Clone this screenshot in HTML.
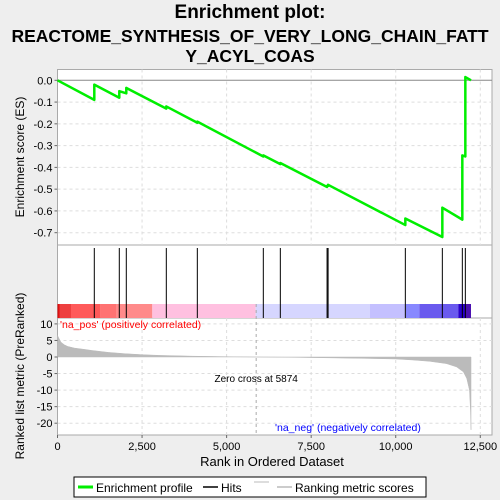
<!DOCTYPE html>
<html><head><meta charset="utf-8"><style>
body{margin:0;background:#eeeeee;}
svg{display:block;font-family:"Liberation Sans",sans-serif;}
</style></head><body>
<svg width="500" height="500" viewBox="0 0 500 500">
<rect x="0" y="0" width="500" height="500" fill="#eeeeee"/>
<text x="250" y="18" text-anchor="middle" font-size="19" font-weight="bold">Enrichment plot:</text>
<text x="250" y="42" text-anchor="middle" font-size="17.5" font-weight="bold">REACTOME_SYNTHESIS_OF_VERY_LONG_CHAIN_FATT</text>
<text x="250" y="62" text-anchor="middle" font-size="17.5" font-weight="bold">Y_ACYL_COAS</text>
<g id="panels"></g>
<g id="g-es"></g>
<g id="g-hits"></g>
<g id="g-metric"></g>
<g id="g-axes"></g>
<text transform="translate(24,157) rotate(-90)" text-anchor="middle" font-size="12">Enrichment score (ES)</text>
<text transform="translate(24,376) rotate(-90)" text-anchor="middle" font-size="12">Ranked list metric (PreRanked)</text>
<text x="272" y="466" text-anchor="middle" font-size="13">Rank in Ordered Dataset</text>
<g>
<rect x="74" y="477" width="352" height="20" fill="#fff" stroke="#000" stroke-width="1"/>
<line x1="78" y1="487" x2="93" y2="487" stroke="#00ee00" stroke-width="3"/>
<text x="96" y="492" font-size="12">Enrichment profile</text>
<line x1="203" y1="487" x2="218" y2="487" stroke="#000" stroke-width="1.5"/>
<text x="221" y="492" font-size="12">Hits</text>
<line x1="254" y1="482" x2="269" y2="482" stroke="#bbb" stroke-width="1"/>
<line x1="277" y1="487" x2="292" y2="487" stroke="#bbb" stroke-width="1.5"/>
<text x="295" y="492" font-size="12">Ranking metric scores</text>
</g>
</svg>
<script>
const hitRanks=[1088,1827,2034,3217,4134,6085,6588,7970,8000,10284,11378,11969,12058];
const esBefore=[-0.09,-0.08,-0.06,-0.13,-0.195,-0.35,-0.385,-0.49,-0.485,-0.665,-0.72,-0.64,-0.35];
const esAfter=[-0.02,-0.05,-0.035,-0.12,-0.19,-0.345,-0.38,-0.485,-0.48,-0.635,-0.585,-0.345,0.015];
const esEnd=0.0;
const nRanks=12226;
const metricRanks=[0,50,100,200,300,500,800,1000,1500,2000,2500,3000,4000,5000,5874,7000,8000,9000,10000,10500,11000,11500,11800,12000,12100,12180,12210,12226];
const metricVals=[6.5,5.5,4.5,3.7,3.2,2.7,2.3,2.0,1.4,1.0,0.7,0.5,0.25,0.1,0,-0.1,-0.25,-0.4,-0.6,-0.9,-1.3,-2,-3,-4.5,-6.5,-10,-16,-22];
const xTicks=[0,2500,5000,7500,10000,12500];
const xTickLabels=["0","2,500","5,000","7,500","10,000","12,500"];
const esTicks=[0,-0.1,-0.2,-0.3,-0.4,-0.5,-0.6,-0.7];
const esTickLabels=["0.0","-0.1","-0.2","-0.3","-0.4","-0.5","-0.6","-0.7"];
const mTicks=[10,5,0,-5,-10,-15,-20];
const mTickLabels=["10","5","0","-5","-10","-15","-20"];
const zeroCross=5874;

const NS="http://www.w3.org/2000/svg";
const L=57.5,R=492;
const X=r=>57.5+r*0.033823;
const YES=v=>80.3-v*217.7;
const YM=v=>357-v*3.31;
function mk(tag,attrs,parent){const e=document.createElementNS(NS,tag);for(const k in attrs)e.setAttribute(k,attrs[k]);parent.appendChild(e);return e;}
const P=document.getElementById('panels'),GE=document.getElementById('g-es'),GH=document.getElementById('g-hits'),GM=document.getElementById('g-metric'),GA=document.getElementById('g-axes');
// panels
let p1=mk('rect',{x:L,y:69.5,width:R-L,height:175.5,fill:'#fff',stroke:'#aaa'},P);


let p2=mk('rect',{x:L,y:245,width:R-L,height:73,fill:'#fff',stroke:'#aaa'},P);


let p3=mk('rect',{x:L,y:318,width:R-L,height:117,fill:'#fff',stroke:'#aaa'},P);


// grids
xTicks.forEach(t=>{if(t===0)return;
 mk('line',{x1:X(t),x2:X(t),y1:69.5,y2:245,stroke:'#ddd','stroke-dasharray':'3,3'},P);
 mk('line',{x1:X(t),x2:X(t),y1:318,y2:435,stroke:'#ddd','stroke-dasharray':'3,3'},P);});
esTicks.forEach(t=>{if(t===0)return;mk('line',{x1:L,x2:R,y1:YES(t),y2:YES(t),stroke:'#ddd','stroke-dasharray':'3,3'},P);});
mTicks.forEach(t=>{if(t===0)return;mk('line',{x1:L,x2:R,y1:YM(t),y2:YM(t),stroke:'#ddd','stroke-dasharray':'3,3'},P);});
mk('line',{x1:L,x2:R,y1:YES(0),y2:YES(0),stroke:'#888'},P);
// colorbar
const segs=[[57.5,59.5,'#dd1010'],[59.5,71,'#ee4040'],[71,100.7,'#ff5a5a'],[100.7,116.7,'#ff7272'],[116.7,152.3,'#ff8a8a'],[152.3,255.7,'#ffc0e0'],[255.7,370,'#d6d6ff'],[370,406,'#c4c0ff'],[406,419.3,'#8888ff'],[419.3,458.3,'#6a5aee'],[458.3,465,'#2a00cc'],[465,471,'#4a10b0']];
segs.forEach(s=>{let r=mk('rect',{x:s[0],y:304,width:s[1]-s[0],height:14,fill:s[2]},GH);
 
 });
// hits
hitRanks.forEach(h=>{let l=mk('line',{x1:X(h),x2:X(h),y1:248,y2:318,stroke:'#000','stroke-width':1},GH);
 
 });
// ES curve
let pts=[[X(0),YES(0)]];
hitRanks.forEach((h,i)=>{pts.push([X(h),YES(esBefore[i])]);pts.push([X(h),YES(esAfter[i])]);});
pts.push([X(nRanks),YES(esEnd)]);
let es=mk('polyline',{points:pts.map(p=>p.join(',')).join(' '),fill:'none',stroke:'#00ee00','stroke-width':2.5,'stroke-linejoin':'round'},GE);


// metric area
let mp=[[X(0),YM(0)]];metricRanks.forEach((r,i)=>mp.push([X(r),YM(metricVals[i])]));mp.push([X(nRanks),YM(0)]);
let ma=mk('polygon',{points:mp.map(p=>p.join(',')).join(' '),fill:'#bbbbbb',stroke:'#bbbbbb','stroke-width':0.5},GM);


mk('line',{x1:X(zeroCross),x2:X(zeroCross),y1:304,y2:435,stroke:'#aaa','stroke-dasharray':'3,3'},GM);
let zt=mk('text',{x:X(zeroCross),y:382,'text-anchor':'middle','font-size':'10'},GM);zt.textContent='Zero cross at '+zeroCross;


let tp=mk('text',{x:60,y:328,'font-size':'10.5',fill:'#ff0000'},GM);tp.textContent="'na_pos' (positively correlated)";


let tn=mk('text',{x:275,y:431,'font-size':'10.5',fill:'#0000ff'},GM);tn.textContent="'na_neg' (negatively correlated)";


// axes ticks
esTicks.forEach((t,i)=>{mk('line',{x1:L-3,x2:L,y1:YES(t),y2:YES(t),stroke:'#666'},GA);
 let tx=mk('text',{x:L-5,y:YES(t)+4,'text-anchor':'end','font-size':'11'},GA);tx.textContent=esTickLabels[i];
 
 });
mTicks.forEach((t,i)=>{mk('line',{x1:L-3,x2:L,y1:YM(t),y2:YM(t),stroke:'#666'},GA);
 let tx=mk('text',{x:L-5,y:YM(t)+4,'text-anchor':'end','font-size':'11'},GA);tx.textContent=mTickLabels[i];
 
 });
xTicks.forEach((t,i)=>{mk('line',{x1:X(t),x2:X(t),y1:435,y2:438,stroke:'#666'},GA);
 let tx=mk('text',{x:X(t),y:450,'text-anchor':'middle','font-size':'11'},GA);tx.textContent=xTickLabels[i];
 
 });
</script>
</body></html>
